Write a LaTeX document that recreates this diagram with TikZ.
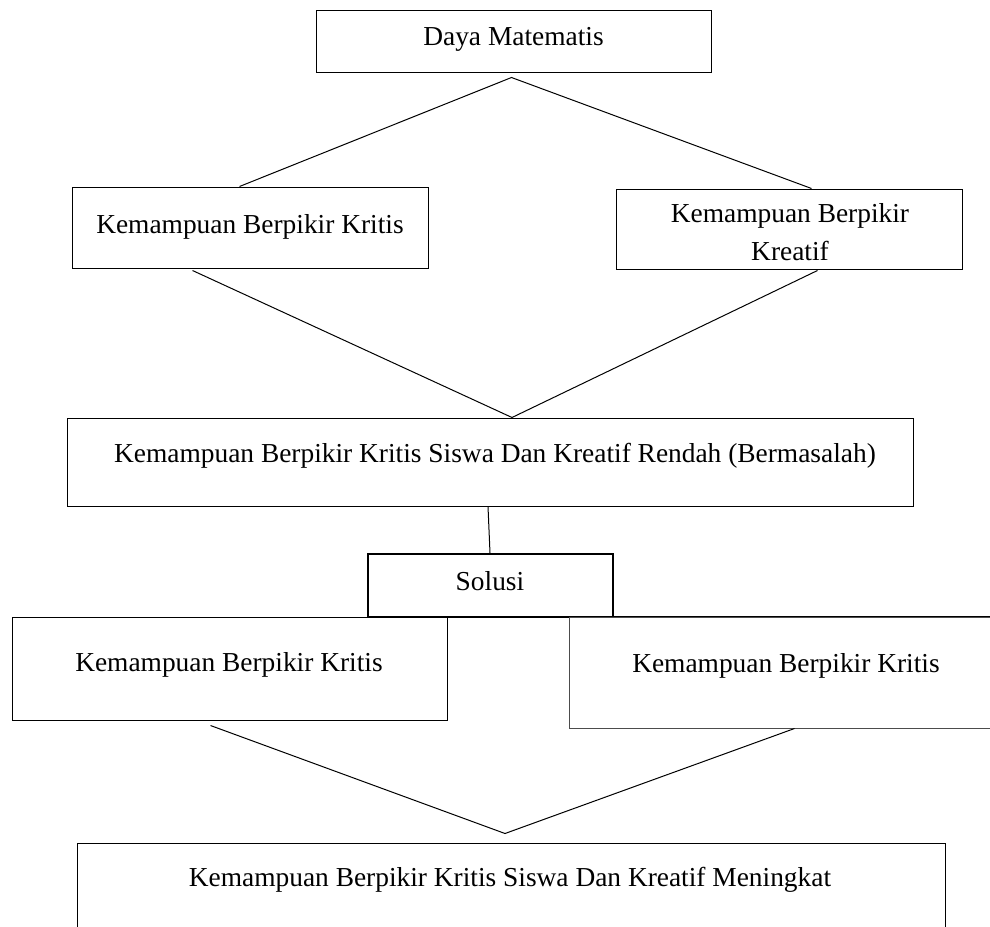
\documentclass[tikz,border=0pt]{standalone}
\usepackage{fontspec}
\setmainfont{Liberation Serif}
\usetikzlibrary{calc}
\begin{document}
\begin{tikzpicture}[x=1pt,y=-1pt,
  box/.style={draw, line width=1pt, rectangle, inner sep=0pt, fill=white},
  txt/.style={font=\fontsize{27.4}{31.5}\selectfont, inner sep=0pt, anchor=base},
  link/.style={line width=1pt}]
\useasboundingbox (0,0) rectangle (990,926);
\clip (0,0) rectangle (990,926);
\fill[white] (0,0) rectangle (990,926);

% boxes
\node[box, minimum width=395pt, minimum height=62pt] (dm) at (513.5,41) {};
\node[box, minimum width=356pt, minimum height=81pt] (k1) at (250,227.5) {};
\node[box, minimum width=346pt, minimum height=80pt] (k2) at (789,229) {};
\node[box, minimum width=846pt, minimum height=88pt] (mid) at (490,462) {};
\node[box, line width=2pt, minimum width=245pt, minimum height=63pt] (sol) at (490.5,585.5) {};
\node[box, minimum width=435pt, minimum height=103pt] (l1) at (229.5,668.5) {};
\node[box, draw=black!70, minimum width=441pt, minimum height=111pt] (l2) at (789.5,672.5) {};
\draw[line width=1pt] (l2.north west) -- (l2.north east);
\node[box, minimum width=868pt, minimum height=157pt] (bot) at (511,921.5) {};

% texts
\node[txt] (t0) at (513.5,45) {Daya Matematis};
\node[txt] (t1) at (250,233) {Kemampuan Berpikir Kritis};
\node[txt] (t2a) at (790,222) {Kemampuan Berpikir};
\node[txt] (t2b) at (790,260) {Kreatif};
\node[txt] (t3) at (495,462) {Kemampuan Berpikir Kritis Siswa Dan Kreatif Rendah (Bermasalah)};
\node[txt] (t4) at (490,590) {Solusi};
\node[txt] (t5) at (229,671) {Kemampuan Berpikir Kritis};
\node[txt] (t6) at (786,672) {Kemampuan Berpikir Kritis};
\node[txt] (t7) at (510,886) {Kemampuan Berpikir Kritis Siswa Dan Kreatif Meningkat};

% connectors
\coordinate (a1) at ($(dm.south)+(-2,5)$);
\draw[link] ($(k1.north west)+(168,0)$) -- (a1) -- ($(k2.north west)+(196,0)$);
\coordinate (a2) at ($(mid.north)+(22,0)$);
\draw[link] ($(k1.south west)+(121,2)$) -- (a2) -- ($(k2.south west)+(202,1)$);
\draw[link] ($(mid.south)+(-2,0)$) -- ($(sol.north)+(-0.5,0)$);
\coordinate (a3) at ($(bot.north)+(-6,-9)$);
\draw[link] ($(l1.south west)+(199,5)$) -- (a3) -- ($(l2.south west)+(226,0)$);
\end{tikzpicture}
\end{document}
